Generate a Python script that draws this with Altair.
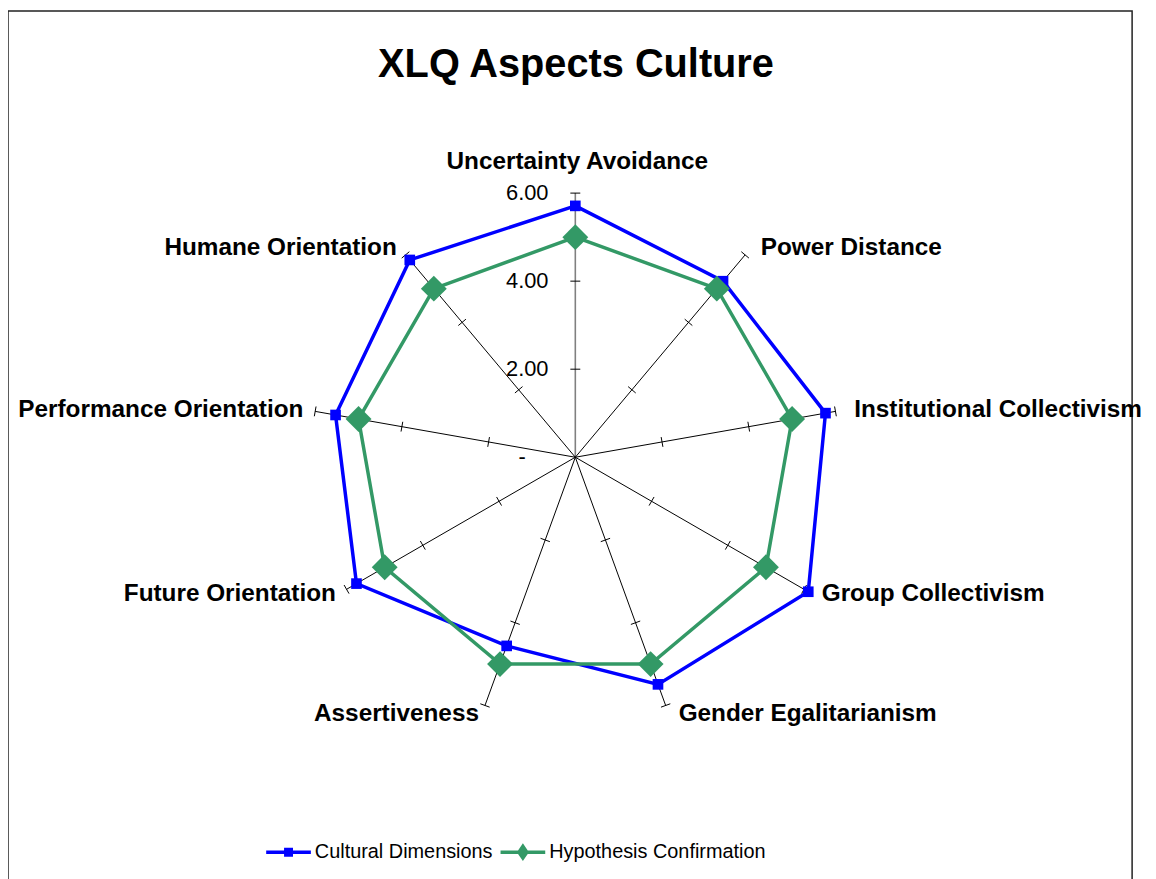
import math
import altair as alt
import pandas as pd

# ---------------- data ----------------
TITLE = "XLQ Aspects Culture"
categories = [
    "Uncertainty Avoidance", "Power Distance", "Institutional Collectivism",
    "Group Collectivism", "Gender Egalitarianism", "Assertiveness",
    "Future Orientation", "Performance Orientation", "Humane Orientation",
]
series_names = ["Cultural Dimensions", "Hypothesis Confirmation"]
cultural_dimensions = [5.71, 5.22, 5.77, 6.11, 5.49, 4.56, 5.74, 5.53, 5.85]
hypothesis_confirmation = [5.00, 5.00, 5.00, 5.00, 5.00, 5.00, 5.00, 5.00, 5.00]
axis_max = 6
tick_values = [0, 2, 4, 6]
tick_labels = ["-", "2.00", "4.00", "6.00"]
series_colors = ["#0000FF", "#339966"]

# ---------------- geometry / style ----------------
FONT = "Liberation Sans"
W, H = 1132, 884
CX, CY = 571.3, 449.3          # centre of the radar in plot pixels
R_PX = 266.0                   # pixels for axis_max
u = axis_max / R_PX            # data units per pixel
N = len(categories)
xs = alt.Scale(domain=[-CX * u, (W - CX) * u], nice=False, zero=False)
ys = alt.Scale(domain=[-(H - CY) * u, CY * u], nice=False, zero=False)
ANG = f"datum.idx * 2 * PI / {N}"

# ---------------- tables ----------------
rows = []
for s, vals in zip(series_names, [cultural_dimensions, hypothesis_confirmation]):
    for i in range(N + 1):
        j = i % N
        rows.append({"series": s, "category": categories[j], "idx": j,
                     "order": i, "value": vals[j]})
series_df = pd.DataFrame(rows)
spoke_df = pd.DataFrame({"category": categories, "idx": list(range(N))})
tick_df = pd.DataFrame([{"idx": i, "t": t} for i in range(N) for t in tick_values if t > 0])
vlabel_df = pd.DataFrame({"t": tick_values, "label": tick_labels})

X = lambda f: alt.X(f"{f}:Q", scale=xs, axis=None)
Y = lambda f: alt.Y(f"{f}:Q", scale=ys, axis=None)

# spokes
spokes = alt.Chart(spoke_df).transform_calculate(
    a=ANG, x0="0", y0="0",
    x1=f"{axis_max} * sin(datum.a)", y1=f"{axis_max} * cos(datum.a)",
).mark_rule().encode(
    x=X("x0"), y=Y("y0"), x2="x1:Q", y2="y1:Q",
    color=alt.condition(alt.datum.idx == 0, alt.value("#808080"), alt.value("black")),
    strokeWidth=alt.condition(alt.datum.idx == 0, alt.value(1.6), alt.value(1)),
)

# cross ticks on each spoke
h = 5 * u
ticks = alt.Chart(tick_df).transform_calculate(
    a=ANG,
    cx="datum.t * sin(datum.a)", cy="datum.t * cos(datum.a)",
    x1=f"datum.cx - {h} * cos(datum.a)", y1=f"datum.cy + {h} * sin(datum.a)",
    x2=f"datum.cx + {h} * cos(datum.a)", y2=f"datum.cy - {h} * sin(datum.a)",
).mark_rule(color="black", strokeWidth=1).encode(
    x=X("x1"), y=Y("y1"), x2="x2:Q", y2="y2:Q",
)

# value-axis labels
vbase = alt.Chart(vlabel_df).transform_calculate(x0="0")
vlabels = vbase.transform_filter("datum.t > 0").mark_text(
    font=FONT, fontSize=22, align="right", baseline="middle", dx=-27, color="black"
).encode(x=X("x0"), y=Y("t"), text="label:N")
vzero = vbase.transform_filter("datum.t == 0").mark_text(
    font=FONT, fontSize=22, align="right", baseline="middle", dx=-50, color="black"
).encode(x=X("x0"), y=Y("t"), text="label:N")

# category labels
LR = axis_max + 9 * u
cbase = alt.Chart(spoke_df).transform_calculate(
    a=ANG, lx=f"{LR} * sin(datum.a)", ly=f"{LR} * cos(datum.a)",
)
ctop = cbase.transform_filter("datum.idx == 0").mark_text(
    font=FONT, fontSize=24.5, fontWeight="bold", align="center",
    baseline="alphabetic", dy=-15, dx=2, color="black",
).encode(x=X("lx"), y=Y("ly"), text="category:N")
cright = cbase.transform_filter(f"datum.idx > 0 && datum.idx <= {N // 2}").mark_text(
    font=FONT, fontSize=24.5, fontWeight="bold", align="left",
    baseline="middle", dx=10, color="black",
).encode(x=X("lx"), y=Y("ly"), text="category:N")
cleft = cbase.transform_filter(f"datum.idx > {N // 2}").mark_text(
    font=FONT, fontSize=24.5, fontWeight="bold", align="right",
    baseline="middle", dx=-3, color="black",
).encode(x=X("lx"), y=Y("ly"), text="category:N")

# series
sbase = alt.Chart(series_df).transform_calculate(
    a=ANG, px="datum.value * sin(datum.a)", py="datum.value * cos(datum.a)",
)
color_scale = alt.Scale(domain=series_names, range=series_colors)

BLUE_PATH = ("M-1,-0.078L1,-0.078L1,0.078L-1,0.078Z "
             "M-0.2,-0.2L0.2,-0.2L0.2,0.2L-0.2,0.2Z")
GREEN_PATH = ("M-1,-0.078L1,-0.078L1,0.078L-1,0.078Z "
              "M0,-0.4L0.27,0L0,0.4L-0.27,0Z")


def make_legend(x, path):
    return alt.Legend(
        title=None, orient="none", legendX=x, legendY=824.5, direction="horizontal",
        symbolType=path, symbolSize=2025, symbolStrokeWidth=0, symbolOpacity=1,
        labelFont=FONT, labelFontSize=20, labelColor="black", labelOffset=4,
        labelLimit=400, padding=0,
    )


lines = sbase.mark_line(strokeWidth=3.5).encode(
    x=X("px"), y=Y("py"),
    color=alt.Color("series:N", scale=color_scale, legend=None),
    order=alt.Order("order:Q"),
)
blue_pts = sbase.transform_filter(
    f"datum.order < {N} && datum.series === '{series_names[0]}'"
).mark_point(filled=True, opacity=1, shape="square", size=115).encode(
    x=X("px"), y=Y("py"),
    color=alt.Color("series:N",
                    scale=alt.Scale(domain=[series_names[0]], range=[series_colors[0]]),
                    legend=make_legend(260, BLUE_PATH)),
)
green_pts = sbase.transform_filter(
    f"datum.order < {N} && datum.series === '{series_names[1]}'"
).transform_calculate(series_g="datum.series").mark_point(
    filled=True, opacity=1, shape="diamond", size=680
).encode(
    x=X("px"), y=Y("py"),
    color=alt.Color("series_g:N",
                    scale=alt.Scale(domain=[series_names[1]], range=[series_colors[1]]),
                    legend=make_legend(496, GREEN_PATH)),
)

chart = alt.layer(
    spokes, ticks, vlabels, vzero, ctop, cright, cleft, lines, blue_pts, green_pts
).resolve_scale(color="independent").resolve_legend(color="independent").properties(
    width=W, height=H,
    autosize=alt.AutoSizeParams(type="none"),
    padding={"left": 0, "top": 0, "right": 16, "bottom": 0},
    title=alt.TitleParams(
        TITLE, font=FONT, fontSize=40, fontWeight="bold", color="black",
        anchor="middle", orient="top", frame="group", offset=-106,
        baseline="alphabetic", dx=6,
    ),
).configure(
    background="white",
    view=alt.ViewConfig(stroke="#222222", strokeWidth=1.5),
)

chart.save("out.html", embed_options={"renderer": "svg", "actions": False})
